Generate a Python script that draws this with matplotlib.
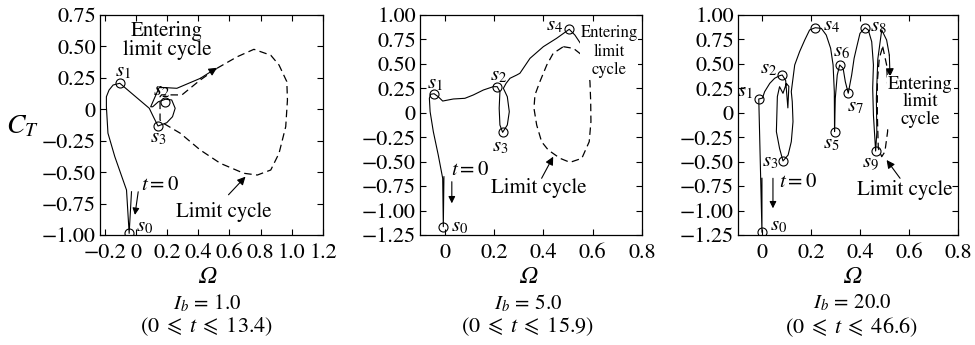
import matplotlib.pyplot as plt

plt.rcParams['font.family'] = ['STIXGeneral', 'DejaVu Sans']
plt.rcParams['mathtext.fontset'] = 'stix'

# ---- I_b = 1.0 ----
p1_om = [-0.028, -0.043, -0.06, -0.135, -0.179, -0.189, -0.189, -0.172, -0.146, -0.103,
         0.086, 0.112, 0.142, 0.198, 0.235, 0.252, 0.23, 0.19, 0.144, 0.108, 0.095,
         0.15, 0.263, 0.413, 0.52]
p1_ct = [-0.656, -0.987, -0.642, -0.377, -0.19, 0.02, 0.10, 0.153, 0.193, 0.207,
         0.008, -0.059, -0.133, -0.107, -0.059, 0.008, 0.074, 0.08, 0.06, 0.02, 0.02,
         0.175, 0.167, 0.246, 0.33]
c1_om = [0.52, 0.65, 0.757, 0.865, 0.918, 0.968, 0.972, 0.961, 0.918, 0.865, 0.779, 0.692,
         0.542, 0.413, 0.284, 0.176, 0.155, 0.155, 0.165, 0.295, 0.413, 0.52]
c1_ct = [0.326, 0.418, 0.477, 0.43, 0.352, 0.22, 0.074, -0.138, -0.35, -0.483, -0.523, -0.509,
         -0.43, -0.324, -0.19, -0.111, -0.085, 0.1, 0.115, 0.114, 0.233, 0.326]
s1_om = [-0.043, -0.103, 0.19, 0.142]
s1_ct = [-0.987, 0.207, 0.06, -0.133]

# ---- I_b = 5.0 ----
p2_om = [-0.003, -0.0055, -0.008, -0.026, -0.046, -0.059, -0.062, -0.057, -0.043, -0.026,
         -0.008, 0.035, 0.082, 0.116, 0.157, 0.197, 0.213, 0.224, 0.221, 0.224, 0.235,
         0.254, 0.262, 0.254, 0.238, 0.249, 0.265, 0.292, 0.305, 0.346, 0.4, 0.454, 0.495,
         0.505, 0.528, 0.555, 0.576, 0.582]
p2_ct = [-0.654, -1.165, -0.67, -0.432, -0.193, 0.011, 0.148, 0.189, 0.195, 0.164,
         0.12, 0.141, 0.148, 0.182, 0.233, 0.267, 0.267, 0.216, 0.046, -0.125, -0.2,
         -0.125, 0.011, 0.164, 0.25, 0.301, 0.353, 0.386, 0.404, 0.557, 0.676, 0.762, 0.836,
         0.854, 0.795, 0.693, 0.591, 0.471]
c2_om = [0.481, 0.522, 0.556, 0.582, 0.589, 0.592, 0.593, 0.586, 0.556, 0.508, 0.468, 0.42,
         0.393, 0.373, 0.362, 0.366, 0.386, 0.414, 0.44, 0.481]
c2_ct = [0.676, 0.659, 0.591, 0.455, 0.318, 0.113, -0.091, -0.296, -0.466, -0.507, -0.466,
         -0.381, -0.296, -0.125, 0.046, 0.182, 0.318, 0.489, 0.608, 0.676]
s2_om = [-0.0055, -0.043, 0.213, 0.235, 0.505]
s2_ct = [-1.165, 0.195, 0.26, -0.2, 0.854]

# ---- I_b = 20.0 ----
p3_om = [-0.002, -0.002, -0.015, 0.0, 0.009, 0.03, 0.05, 0.071, 0.081, 0.095, 0.104, 0.108,
         0.098, 0.084, 0.07, 0.061, 0.057, 0.07, 0.084, 0.105, 0.118, 0.125, 0.122, 0.118,
         0.132, 0.152, 0.173, 0.193, 0.216, 0.241, 0.261, 0.279, 0.289, 0.294, 0.295, 0.298,
         0.306, 0.316, 0.33, 0.339, 0.351, 0.365, 0.375, 0.386, 0.399, 0.42, 0.433, 0.447,
         0.454, 0.451, 0.454, 0.463, 0.468, 0.466, 0.472, 0.488, 0.508, 0.519, 0.522]
p3_ct = [-0.67, -1.222, 0.141, 0.15, 0.216, 0.301, 0.353, 0.38, 0.386, 0.33, 0.05, 0.27,
         0.30, 0.199, 0.267, 0.165, -0.193, -0.364, -0.493, -0.432, -0.296, -0.091, 0.113, 0.216,
         0.489, 0.625, 0.744, 0.847, 0.87, 0.863, 0.795, 0.659, 0.489, 0.216, -0.193, 0.148,
         0.386, 0.489, 0.455, 0.318, 0.2, 0.386, 0.557, 0.676, 0.812, 0.87, 0.847, 0.727,
         0.489, 0.25, -0.023, -0.391, -0.2, 0.15, 0.55, 0.847, 0.744, 0.591, 0.369]
c3_om = [0.492, 0.508, 0.515, 0.512, 0.501, 0.488, 0.474, 0.47, 0.47, 0.478, 0.492]
c3_ct = [0.676, 0.489, 0.148, -0.193, -0.398, -0.449, -0.364, -0.023, 0.318, 0.557, 0.676]
s3_om = [-0.002, -0.015, 0.081, 0.084, 0.216, 0.295, 0.316, 0.351, 0.42, 0.463]
s3_ct = [-1.222, 0.141, 0.386, -0.493, 0.87, -0.193, 0.489, 0.2, 0.87, -0.391]

fig = plt.figure(figsize=(9.75, 3.45), dpi=100)
W, H = 975, 345


def make_axes(left, right):
    return fig.add_axes([left / W, (H - 235) / H, (right - left) / W, 220 / H])


def style(ax, xticks, xlabels, yticks, ylabels):
    ax.set_xticks(xticks)
    ax.set_xticklabels(xlabels)
    ax.set_yticks(yticks)
    ax.set_yticklabels(ylabels)
    ax.tick_params(direction='in', top=True, right=True, length=4, width=0.8,
                   labelsize=16)
    ax.tick_params(axis='x', pad=6)
    ax.tick_params(axis='y', pad=3)
    for sp in ax.spines.values():
        sp.set_linewidth(0.9)


def arrow(ax, tail, tip, ms=12):
    ax.annotate('', xy=tip, xytext=tail,
                arrowprops=dict(arrowstyle='-|>', color='k', lw=0.8,
                                mutation_scale=ms, shrinkA=0, shrinkB=0))


def draw(ax, p_om, p_ct, c_om, c_ct, s_om, s_ct):
    ax.plot(p_om[:-1], p_ct[:-1], color='k', lw=0.8)
    arrow(ax, (p_om[-2], p_ct[-2]), (p_om[-1], p_ct[-1]))
    ax.plot(c_om, c_ct, color='k', lw=0.9, dashes=(6, 3.5))
    ax.plot(s_om, s_ct, 'o', ms=6.5, mfc='none', mec='k', mew=0.8)


lbl = dict(fontsize=15, ha='center', va='center')

# panel 1
ax1 = make_axes(100, 323)
draw(ax1, p1_om, p1_ct, c1_om, c1_ct, s1_om, s1_ct)
ax1.set_xlim(-0.23, 1.2)
ax1.set_ylim(-1.0, 0.75)
style(ax1, [-0.2, 0, 0.2, 0.4, 0.6, 0.8, 1.0, 1.2],
      ['−0.2', '0', '0.2', '0.4', '0.6', '0.8', '1.0', '1.2'],
      [-1.0, -0.75, -0.5, -0.25, 0, 0.25, 0.5, 0.75],
      ['−1.00', '−0.75', '−0.50', '−0.25', '0', '0.25', '0.50', '0.75'])
ax1.text(0.2, 0.55, 'Entering\nlimit cycle', fontsize=15, ha='center', va='center',
         linespacing=0.95)
ax1.text(0.563, -0.815, 'Limit cycle', **lbl)
arrow(ax1, (0.594, -0.68), (0.703, -0.536))
arrow(ax1, (0.015, -0.656), (-0.006, -0.84), ms=10)
ax1.text(0.155, -0.60, '$t=0$', **lbl)
for name, x, y in [('s_0', 0.058, -0.93), ('s_1', -0.08, 0.30),
                   ('s_2', 0.165, 0.15), ('s_3', 0.144, -0.22)]:
    ax1.text(x, y, '$%s$' % name, **lbl)

# panel 2
ax2 = make_axes(420, 642)
draw(ax2, p2_om, p2_ct, c2_om, c2_ct, s2_om, s2_ct)
ax2.set_xlim(-0.1, 0.8)
ax2.set_ylim(-1.25, 1.0)
yt = [-1.25, -1.0, -0.75, -0.5, -0.25, 0, 0.25, 0.5, 0.75, 1.0]
yl = ['−1.25', '−1.00', '−0.75', '−0.50', '−0.25', '0', '0.25', '0.50', '0.75', '1.00']
style(ax2, [0, 0.2, 0.4, 0.6, 0.8], ['0', '0.2', '0.4', '0.6', '0.8'], yt, yl)
ax2.text(0.667, 0.625, 'Entering\nlimit\ncycle', fontsize=12, ha='center', va='center',
         linespacing=1.2, bbox=dict(fc='white', ec='none', pad=0.5))
ax2.text(0.38, -0.772, 'Limit cycle', **lbl)
arrow(ax2, (0.393, -0.67), (0.44, -0.449))
arrow(ax2, (0.029, -0.705), (0.029, -0.926), ms=10)
ax2.text(0.103, -0.585, '$t=0$', **lbl)
for name, x, y in [('s_0', 0.062, -1.165), ('s_1', -0.039, 0.30), ('s_2', 0.217, 0.386),
                   ('s_3', 0.224, -0.347), ('s_4', 0.447, 0.898)]:
    ax2.text(x, y, '$%s$' % name, **lbl)

# panel 3
ax3 = make_axes(738, 958)
draw(ax3, p3_om, p3_ct, c3_om, c3_ct, s3_om, s3_ct)
ax3.set_xlim(-0.1, 0.8)
ax3.set_ylim(-1.25, 1.0)
style(ax3, [0, 0.2, 0.4, 0.6, 0.8], ['0', '0.2', '0.4', '0.6', '0.8'], yt, yl)
ax3.text(0.647, 0.113, 'Entering\nlimit\ncycle', fontsize=13.5, ha='center', va='center',
         linespacing=1.05, bbox=dict(fc='white', ec='none', pad=0.5))
ax3.text(0.583, -0.79, 'Limit cycle', **lbl)
arrow(ax3, (0.563, -0.67), (0.508, -0.483))
arrow(ax3, (0.043, -0.67), (0.043, -0.977), ms=10)
ax3.text(0.145, -0.705, '$t=0$', **lbl)
for name, x, y in [('s_0', 0.064, -1.15), ('s_1', -0.07, 0.223), ('s_2', 0.023, 0.455),
                   ('s_3', 0.03, -0.5), ('s_4', 0.282, 0.898), ('s_5', 0.282, -0.312),
                   ('s_6', 0.323, 0.625), ('s_7', 0.379, 0.062), ('s_8', 0.474, 0.88),
                   ('s_9', 0.44, -0.5)]:
    ax3.text(x, y, '$%s$' % name, **lbl)

# axis labels and captions
fig.text(22 / W, 1 - 127 / H, '$C_T$', fontsize=20, ha='center', va='center')
for cx, ib, tmax in [(207, '1.0', '13.4'), (528, '5.0', '15.9'), (852, '20.0', '46.6')]:
    fig.text(cx / W, 1 - 277 / H, 'Ω', fontsize=17, fontstyle='italic',
             ha='center', va='center')
    fig.text(cx / W, 1 - 303 / H, r'$I_b\,=\,%s$' % ib, fontsize=15, ha='center', va='center')
    fig.text(cx / W, 1 - 327 / H, r'$(0\;\leqslant\;t\;\leqslant\;%s)$' % tmax, fontsize=16,
             ha='center', va='center')

fig.savefig('out.png', dpi=100)
